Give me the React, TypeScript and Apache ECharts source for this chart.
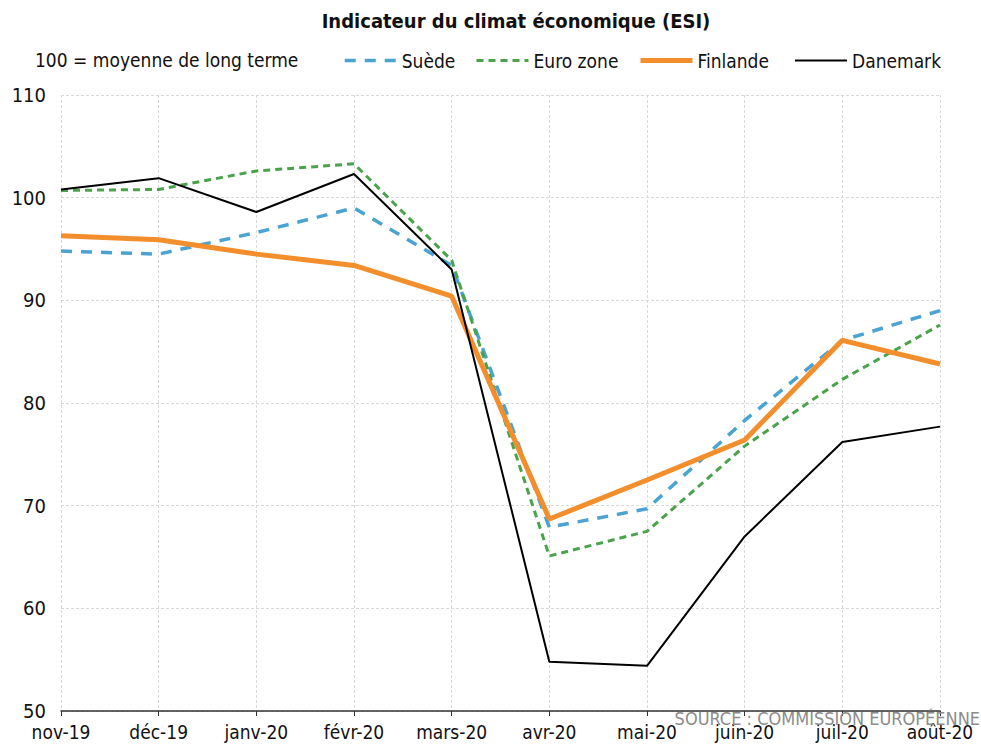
import React, { useEffect, useRef } from "react";
import * as echarts from "echarts";

const categories = ["nov-19", "déc-19", "janv-20", "févr-20", "mars-20", "avr-20", "mai-20", "juin-20", "juil-20", "août-20"];
const suede = [94.8, 94.5, 96.6, 99.0, 93.4, 67.9, 69.7, 78.3, 86.1, 89.0];
const euroZone = [100.7, 100.8, 102.6, 103.3, 93.9, 65.1, 67.5, 75.8, 82.3, 87.6];
const finlande = [96.3, 95.9, 94.5, 93.4, 90.4, 68.7, 72.5, 76.4, 86.1, 83.8];
const danemark = [100.8, 101.9, 98.6, 102.3, 93.0, 54.8, 54.4, 67.0, 76.2, 77.7];

const FONT = "'DejaVu Sans Condensed', 'Liberation Sans', sans-serif";

export default function App() {
  const ref = useRef<HTMLDivElement>(null);
  useEffect(() => {
    if (!ref.current) return;
    const chart = echarts.init(ref.current, undefined, { renderer: "svg" });
    const legendText = { fontFamily: FONT, fontSize: 19, color: "#111" };
    const mkLegend = (name: string, left: number, lineStyle: any) => ({
      data: [name],
      left,
      top: 46,
      itemWidth: 52,
      itemHeight: 14,
      itemGap: 5,
      textStyle: legendText,
      itemStyle: { opacity: 0 },
      lineStyle,
    });
    chart.setOption({
      animation: false,
      backgroundColor: "#fff",
      title: {
        text: "Indicateur du climat économique (ESI)",
        left: 511,
        textAlign: "center",
        top: 6,
        textStyle: { fontFamily: FONT, fontSize: 20, fontWeight: "bold", color: "#111" },
      },
      legend: [
        mkLegend("Suède", 338, { width: 3.5, type: [11, 9] }),
        mkLegend("Euro zone", 470, { width: 3, type: [7, 5] }),
        mkLegend("Finlande", 633, { width: 5, type: "solid" }),
        mkLegend("Danemark", 789, { width: 2, type: "solid" }),
      ],
      graphic: [
        {
          type: "text",
          left: 35,
          top: 50,
          style: { text: "100 = moyenne de long terme", font: `19px ${FONT}`, fill: "#111" },
        },
        {
          type: "text",
          right: 1,
          top: 709,
          z: 10,
          style: { text: "SOURCE : COMMISSION EUROPÉENNE", font: `18px ${FONT}`, fill: "#8c8c8c" },
        },
      ],
      grid: { left: 61, right: 41, top: 95, bottom: 33, containLabel: false },
      xAxis: {
        type: "category",
        data: categories,
        boundaryGap: false,
        axisLine: { show: true, lineStyle: { color: "#333", width: 1.5 } },
        axisTick: { show: true, alignWithLabel: true, length: 5, lineStyle: { color: "#333" } },
        axisLabel: { fontFamily: FONT, fontSize: 19, color: "#111", margin: 11, interval: 0 },
        splitLine: { show: true, lineStyle: { color: "#d9d9d9", type: [3, 2] } },
      },
      yAxis: {
        type: "value",
        min: 50,
        max: 110,
        interval: 10,
        axisLine: { show: false },
        axisTick: { show: false },
        axisLabel: { fontFamily: FONT, fontSize: 20, color: "#111", margin: 15 },
        splitLine: { show: true, lineStyle: { color: "#d9d9d9", type: [3, 2] } },
      },
      series: [
        {
          name: "Suède",
          type: "line",
          data: suede,
          symbol: "none",
          color: "#4aa3d0",
          lineStyle: { color: "#4aa3d0", width: 3.5, type: [11, 9] },
        },
        {
          name: "Euro zone",
          type: "line",
          data: euroZone,
          symbol: "none",
          color: "#4aa24a",
          lineStyle: { color: "#4aa24a", width: 3, type: [7, 5] },
        },
        {
          name: "Finlande",
          type: "line",
          data: finlande,
          symbol: "none",
          color: "#f28e2b",
          lineStyle: { color: "#f28e2b", width: 5 },
        },
        {
          name: "Danemark",
          type: "line",
          data: danemark,
          symbol: "none",
          color: "#000",
          lineStyle: { color: "#000", width: 2 },
        },
      ],
    });
    return () => chart.dispose();
  }, []);
  return <div ref={ref} style={{ width: 981, height: 744, position: "absolute", left: 0, top: 0 }} />;
}
